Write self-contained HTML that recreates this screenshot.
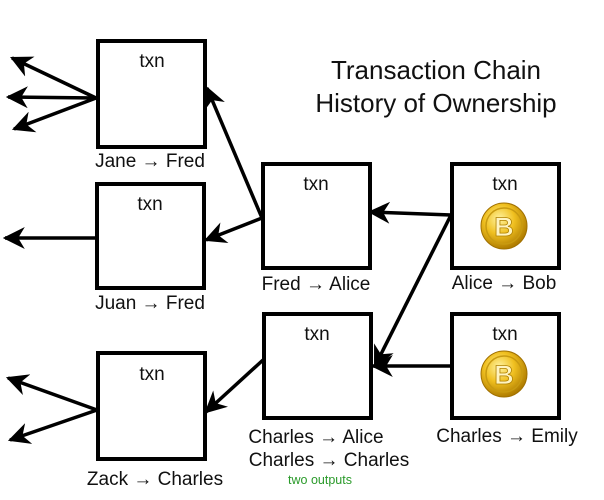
<!DOCTYPE html>
<html><head><style>body{margin:0;background:#fff}svg{display:block}</style></head><body>
<svg width="604" height="500" viewBox="0 0 604 500" xmlns="http://www.w3.org/2000/svg" font-family="Liberation Sans, sans-serif">
<defs>
<marker id="b" viewBox="0 0 10 10" refX="9" refY="5" markerWidth="22" markerHeight="22" orient="auto" markerUnits="userSpaceOnUse"><path d="M0,0 L10,5 L0,10 L3,5 z" fill="#000"/></marker>
<radialGradient id="g" cx="40%" cy="35%" r="65%"><stop offset="0" stop-color="#fff3a0"/><stop offset="0.5" stop-color="#f0c020"/><stop offset="1" stop-color="#b07d00"/></radialGradient>
</defs>
<g fill="#fff" stroke="#000" stroke-width="4">
<rect x="98" y="41" width="107" height="106"/>
<rect x="97" y="184" width="107" height="104"/>
<rect x="263" y="164" width="107" height="104"/>
<rect x="452" y="164" width="107" height="104"/>
<rect x="264" y="314" width="107" height="104"/>
<rect x="452" y="314" width="107" height="104"/>
<rect x="98" y="353" width="107" height="106"/>
</g>
<g stroke="#000" stroke-width="3.5" fill="none" marker-end="url(#b)">
<line x1="96" y1="98" x2="12" y2="58"/>
<line x1="96" y1="98" x2="8" y2="97"/>
<line x1="96" y1="98" x2="14" y2="129"/>
<line x1="96" y1="238" x2="5" y2="238"/>
<line x1="262" y1="218" x2="207" y2="88"/>
<line x1="262" y1="218" x2="206" y2="240"/>
<line x1="451" y1="215" x2="370" y2="212"/>
<line x1="451" y1="215" x2="375" y2="366"/>
<line x1="451" y1="366" x2="373" y2="366"/>
<line x1="263" y1="360" x2="206" y2="412"/>
<line x1="97" y1="410" x2="8" y2="378"/>
<line x1="97" y1="410" x2="10" y2="440"/>
</g>
<g font-size="19" text-anchor="middle" fill="#111">
<text x="152" y="67">txn</text>
<text x="150" y="210">txn</text>
<text x="316" y="190">txn</text>
<text x="505" y="190">txn</text>
<text x="317" y="340">txn</text>
<text x="505" y="340">txn</text>
<text x="152" y="380">txn</text>
<text x="150" y="167">Jane → Fred</text>
<text x="150" y="309">Juan → Fred</text>
<text x="316" y="290">Fred → Alice</text>
<text x="504" y="289">Alice → Bob</text>
<text x="316" y="443">Charles → Alice</text>
<text x="329" y="466">Charles → Charles</text>
<text x="507" y="442">Charles → Emily</text>
<text x="155" y="485">Zack → Charles</text>
<text x="320" y="484" font-size="12.5" fill="#2a9a2a">two outputs</text>
<text x="436" y="79" font-size="26">Transaction Chain</text>
<text x="436" y="112" font-size="26">History of Ownership</text>
</g>
<g>
<circle cx="504" cy="226" r="23" fill="url(#g)" stroke="#a07000" stroke-width="1"/>
<circle cx="504" cy="226" r="18" fill="none" stroke="#c89a10" stroke-width="1.5"/>
<text x="504" y="236" font-size="27" font-weight="bold" text-anchor="middle" fill="#fff4c0" stroke="#b08000" stroke-width="0.8">B</text>
<circle cx="504" cy="374" r="23" fill="url(#g)" stroke="#a07000" stroke-width="1"/>
<circle cx="504" cy="374" r="18" fill="none" stroke="#c89a10" stroke-width="1.5"/>
<text x="504" y="384" font-size="27" font-weight="bold" text-anchor="middle" fill="#fff4c0" stroke="#b08000" stroke-width="0.8">B</text>
</g>
</svg>
</body></html>
